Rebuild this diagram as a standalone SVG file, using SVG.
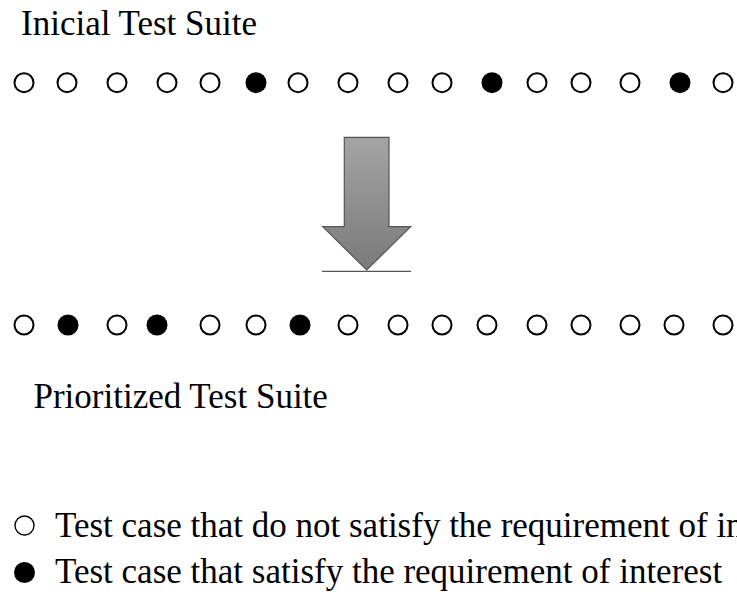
<svg xmlns="http://www.w3.org/2000/svg" width="737" height="602" viewBox="0 0 737 602">
<style>
text{font-family:"Liberation Serif","Times New Roman",serif;font-size:35px;fill:#000}
.o{fill:#fff;stroke:#000;stroke-width:2}
.f{fill:#000}
.lo{fill:#fff;stroke:#000;stroke-width:1.4}
</style>
<defs>
<linearGradient id="g" x1="0" y1="0" x2="0" y2="1">
<stop offset="0" stop-color="#a4a4a4"/>
<stop offset="1" stop-color="#7a7a7a"/>
</linearGradient>
</defs>
<rect width="737" height="602" fill="#fff"/>
<g id="title-initial"><text x="21" y="34.5">Inicial Test Suite</text></g>
<g id="initial-suite">
<circle class="o" cx="24" cy="82.7" r="9.5"/>
<circle class="o" cx="67" cy="82.7" r="9.5"/>
<circle class="o" cx="117" cy="82.7" r="9.5"/>
<circle class="o" cx="167" cy="82.7" r="9.5"/>
<circle class="o" cx="210" cy="82.7" r="9.5"/>
<circle class="f" cx="256" cy="82.7" r="10.5"/>
<circle class="o" cx="298" cy="82.7" r="9.5"/>
<circle class="o" cx="348" cy="82.7" r="9.5"/>
<circle class="o" cx="398" cy="82.7" r="9.5"/>
<circle class="o" cx="442" cy="82.7" r="9.5"/>
<circle class="f" cx="492" cy="82.7" r="10.5"/>
<circle class="o" cx="537" cy="82.7" r="9.5"/>
<circle class="o" cx="581" cy="82.7" r="9.5"/>
<circle class="o" cx="630" cy="82.7" r="9.5"/>
<circle class="f" cx="680" cy="82.7" r="10.5"/>
<circle class="o" cx="723" cy="82.7" r="9.5"/>
</g>
<g id="connectors">
<path d="M344.3,137.3 H389 V226.7 H410.7 L366.7,270 L322.7,226.7 H344.3 Z" fill="url(#g)" stroke="#555" stroke-width="1.2" stroke-linejoin="miter"/>
<line x1="322" y1="271.3" x2="411" y2="271.3" stroke="#555" stroke-width="1.2"/>
</g>
<g id="prioritized-suite">
<circle class="o" cx="24" cy="325" r="9.5"/>
<circle class="f" cx="68" cy="325" r="10.5"/>
<circle class="o" cx="117" cy="325" r="9.5"/>
<circle class="f" cx="157" cy="325" r="10.5"/>
<circle class="o" cx="210" cy="325" r="9.5"/>
<circle class="o" cx="256" cy="325" r="9.5"/>
<circle class="f" cx="300" cy="325" r="10.5"/>
<circle class="o" cx="348" cy="325" r="9.5"/>
<circle class="o" cx="398" cy="325" r="9.5"/>
<circle class="o" cx="442" cy="325" r="9.5"/>
<circle class="o" cx="487" cy="325" r="9.5"/>
<circle class="o" cx="537" cy="325" r="9.5"/>
<circle class="o" cx="581" cy="325" r="9.5"/>
<circle class="o" cx="630" cy="325" r="9.5"/>
<circle class="o" cx="674" cy="325" r="9.5"/>
<circle class="o" cx="723" cy="325" r="9.5"/>
</g>
<g id="title-prioritized"><text x="33.5" y="408.3">Prioritized Test Suite</text></g>
<g id="legend">
<circle class="lo" cx="24.5" cy="525.5" r="9.5"/>
<text x="55" y="536.7">Test case that do not satisfy the requirement of interest</text>
<circle class="f" cx="24.5" cy="572.5" r="10.5"/>
<text x="55" y="583">Test case that satisfy the requirement of interest</text>
</g>
</svg>
